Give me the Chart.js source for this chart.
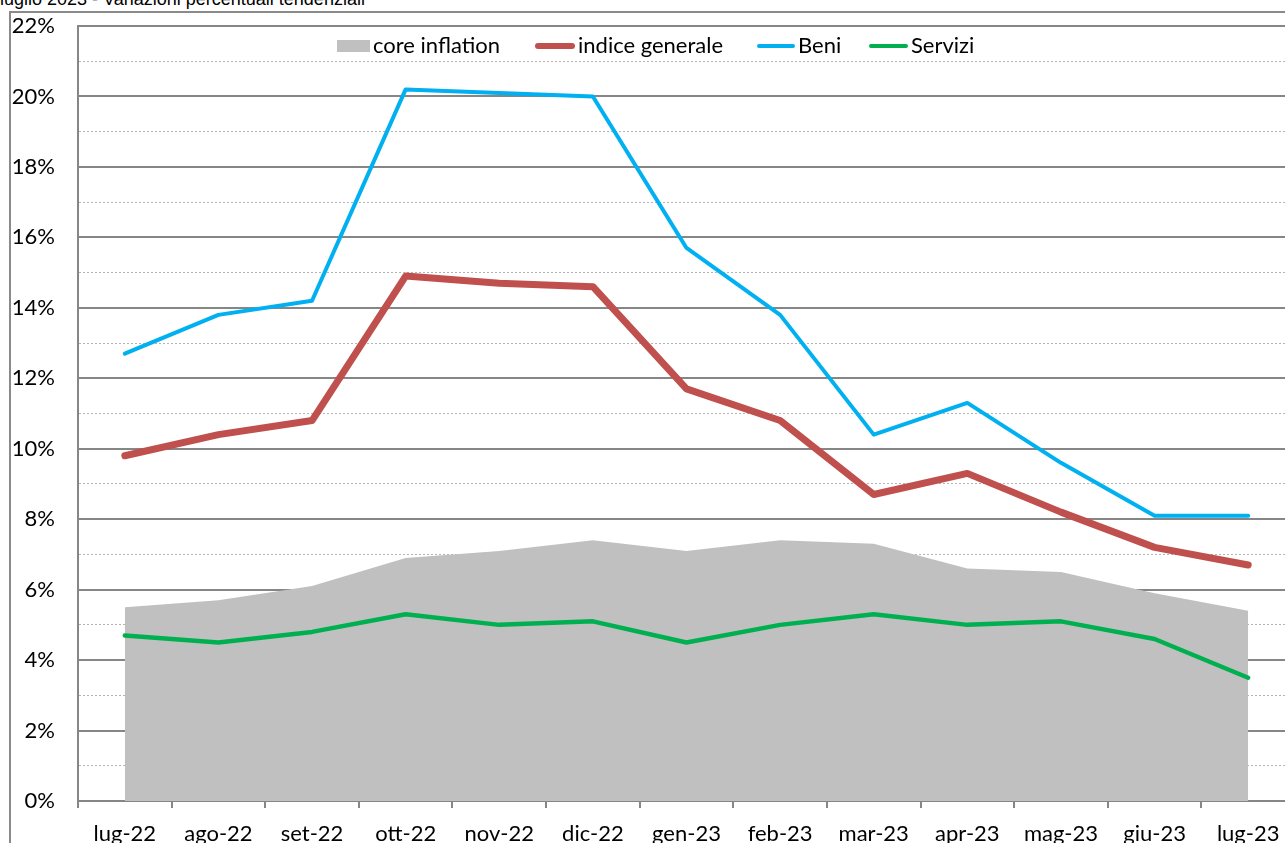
<!DOCTYPE html>
<html>
<head>
<meta charset="utf-8">
<script src="https://cdn.jsdelivr.net/npm/chart.js@4/dist/chart.umd.min.js"></script>
<style>
  html, body { margin: 0; padding: 0; overflow: hidden; background: #fff; }
  #wrap { position: relative; width: 1285px; height: 843px; overflow: hidden; }
  #title { position: absolute; left: 0; top: -10px; font: 18px "Liberation Sans", Arial, sans-serif; color: #000; white-space: nowrap; line-height: 18px; }
  #frame { position: absolute; left: 9px; top: 11px; width: 1400px; height: 900px; border-left: 2px solid #8a8a8a; border-top: 2px solid #8a8a8a; }
  #c { position: absolute; left: 0; top: 0; }
</style>
</head>
<body>
<div id="wrap">
  <div id="frame"></div>
  <div id="title">luglio 2023 - Variazioni percentuali tendenziali</div>
  <canvas id="c" width="1300" height="843"></canvas>
</div>
<script>
const categories = ['lug-22','ago-22','set-22','ott-22','nov-22','dic-22','gen-23','feb-23','mar-23','apr-23','mag-23','giu-23','lug-23'];
const coreInflation = [5.5, 5.7, 6.1, 6.9, 7.1, 7.4, 7.1, 7.4, 7.3, 6.6, 6.5, 5.9, 5.4];
const indiceGenerale = [9.8, 10.4, 10.8, 14.9, 14.7, 14.6, 11.7, 10.8, 8.7, 9.3, 8.2, 7.2, 6.7];
const beni = [12.7, 13.8, 14.2, 20.2, 20.1, 20.0, 15.7, 13.8, 10.4, 11.3, 9.6, 8.1, 8.1];
const servizi = [4.7, 4.5, 4.8, 5.3, 5.0, 5.1, 4.5, 5.0, 5.3, 5.0, 5.1, 4.6, 3.5];
const yMin = 0, yMax = 22, yStep = 1;

const FONT = 'Lato, "Open Sans", sans-serif';
const GRID = '#868686';
const DOT = '#b4b4b4';

const legendItems = [
  { label: 'core inflation', type: 'box', color: '#C0C0C0', x: 337, w: 33, h: 12, lw: 0 },
  { label: 'indice generale', type: 'line', color: '#C0504D', x: 535, w: 40, lw: 6 },
  { label: 'Beni', type: 'line', color: '#00B0F0', x: 757, w: 38, lw: 4 },
  { label: 'Servizi', type: 'line', color: '#00B050', x: 869, w: 39, lw: 4 }
];

const legendPlugin = {
  id: 'customLegend',
  afterDraw(chart) {
    const ctx = chart.ctx;
    const cy = 46;
    ctx.save();
    ctx.font = '22px ' + FONT;
    ctx.textBaseline = 'middle';
    ctx.textAlign = 'left';
    legendItems.forEach(it => {
      if (it.type === 'box') {
        ctx.fillStyle = it.color;
        ctx.fillRect(it.x, cy - 6, it.w, it.h);
      } else {
        ctx.strokeStyle = it.color;
        ctx.lineWidth = it.lw;
        ctx.lineCap = 'round';
        ctx.beginPath();
        ctx.moveTo(it.x + it.lw / 2, cy);
        ctx.lineTo(it.x + it.w - it.lw / 2, cy);
        ctx.stroke();
      }
      ctx.fillStyle = '#000';
      ctx.fillText(it.label, it.x + it.w + 3, cy);
    });
    ctx.restore();
  }
};

new Chart(document.getElementById('c'), {
  type: 'line',
  data: {
    labels: categories,
    datasets: [
      { label: 'core inflation', data: coreInflation, order: 10, fill: 'origin', backgroundColor: '#C0C0C0', borderWidth: 0, borderColor: 'rgba(0,0,0,0)', pointRadius: 0, tension: 0 },
      { label: 'Servizi', data: servizi, order: 3, borderColor: '#00B050', borderWidth: 4.5, pointRadius: 0, tension: 0, fill: false, borderCapStyle: 'round', borderJoinStyle: 'round' },
      { label: 'indice generale', data: indiceGenerale, order: 2, borderColor: '#C0504D', borderWidth: 7, pointRadius: 0, tension: 0, fill: false, borderCapStyle: 'round', borderJoinStyle: 'round' },
      { label: 'Beni', data: beni, order: 1, borderColor: '#00B0F0', borderWidth: 4, pointRadius: 0, tension: 0, fill: false, borderCapStyle: 'round', borderJoinStyle: 'round' }
    ]
  },
  options: {
    responsive: false,
    animation: false,
    devicePixelRatio: 1,
    layout: { padding: { left: 0, top: 26, right: 5, bottom: 0 } },
    plugins: { legend: { display: false }, tooltip: { enabled: false } },
    scales: {
      x: {
        offset: true,
        afterFit(s) { s.height = 42; },
        grid: { display: true, drawOnChartArea: false, drawTicks: true, tickLength: 7, offset: true, color: GRID, lineWidth: 2 },
        border: { display: true, color: GRID, width: 2 },
        ticks: { autoSkip: false, maxRotation: 0, padding: 13, color: '#000', font: { family: FONT, size: 22 } }
      },
      y: {
        min: yMin, max: yMax,
        afterFit(s) { s.width = 78; s.paddingTop = 26; s.paddingBottom = 0; },
        grid: {
          drawTicks: false,
          color: c => (c.tick && c.tick.value % 2 !== 0) ? DOT : GRID,
          lineWidth: c => (c.tick && c.tick.value % 2 !== 0) ? 1 : 2
        },
        border: {
          display: true, color: GRID, width: 2,
          dash: c => (c.tick && c.tick.value % 2 !== 0) ? [2, 2] : []
        },
        ticks: {
          stepSize: yStep,
          padding: 23,
          color: '#000',
          font: { family: FONT, size: 22 },
          callback: v => (v % 2 === 0) ? v + '%' : ''
        }
      }
    }
  },
  plugins: [legendPlugin]
});
</script>
</body>
</html>
